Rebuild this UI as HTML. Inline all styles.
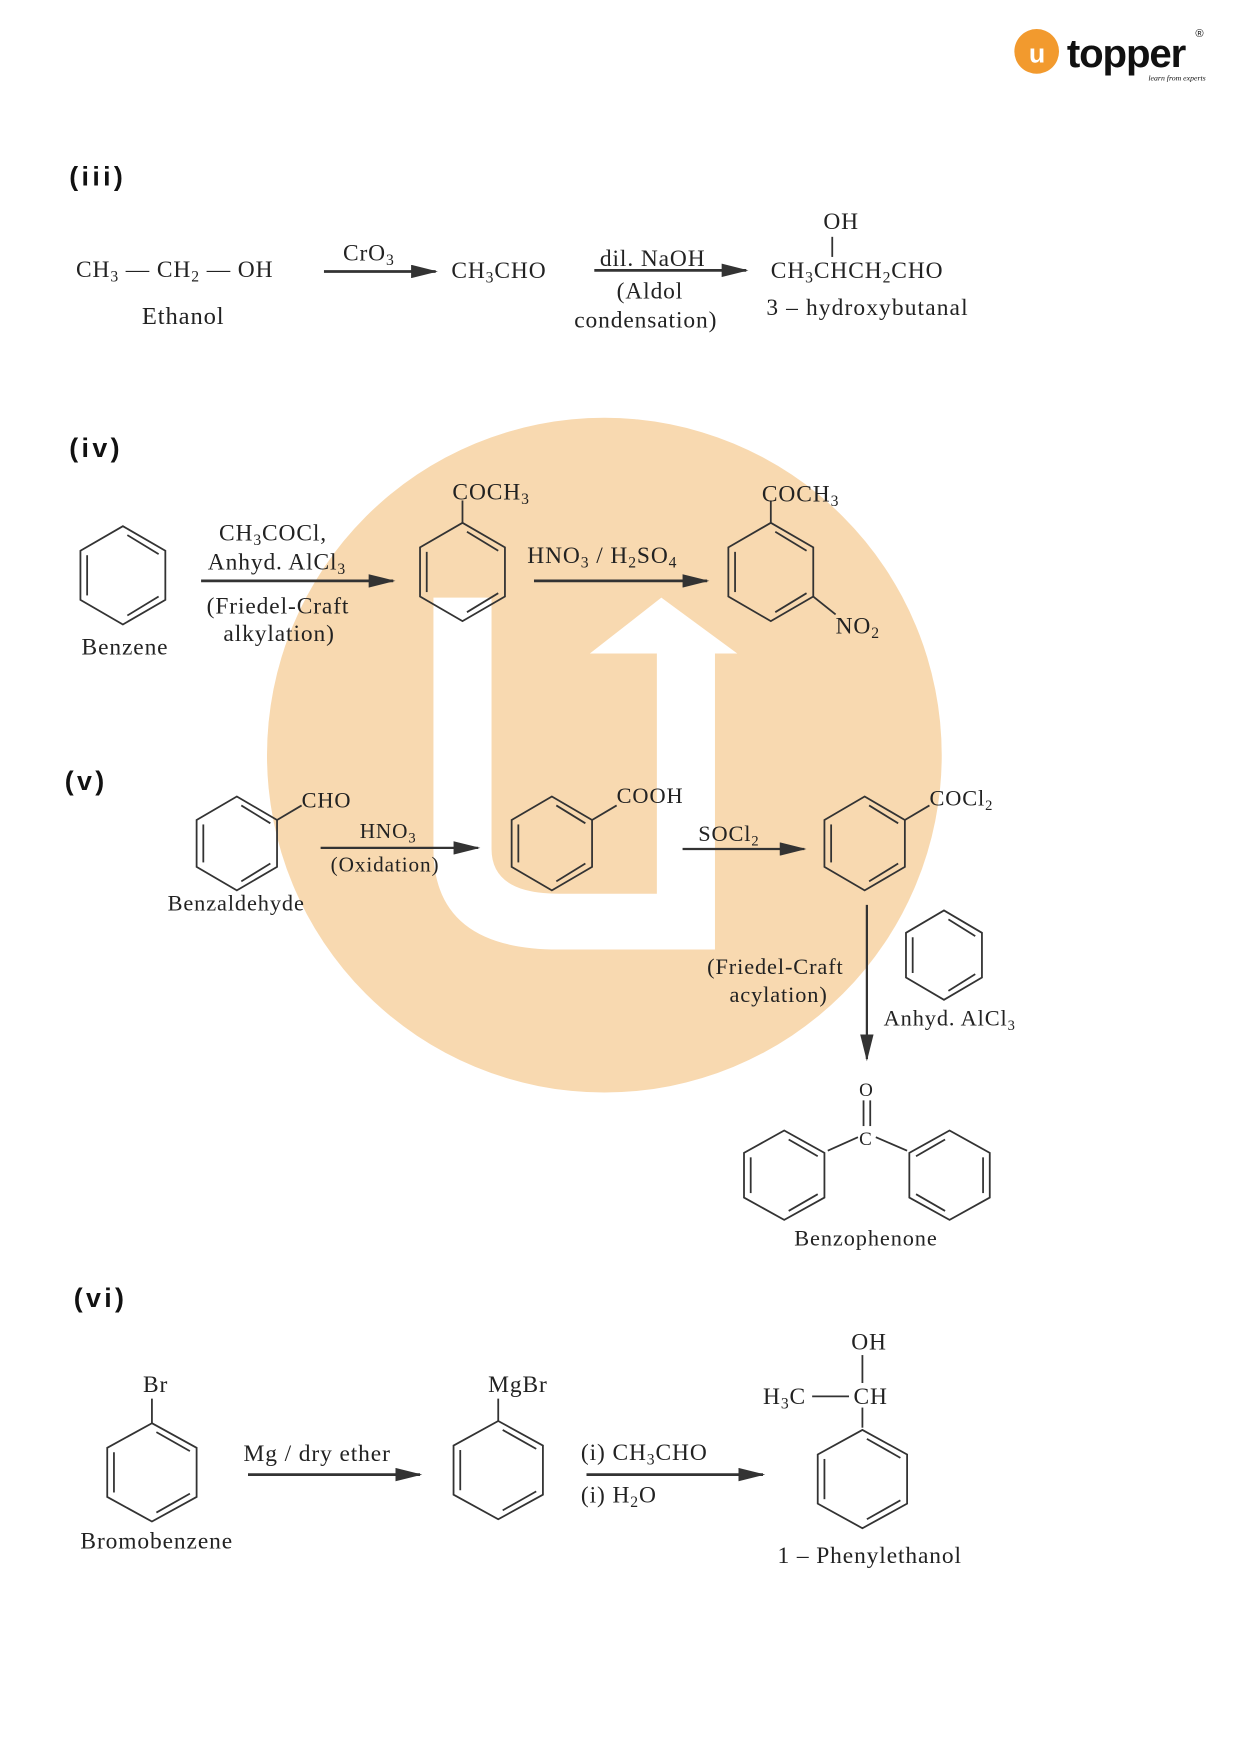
<!DOCTYPE html>
<html><head><meta charset="utf-8">
<style>
html,body{margin:0;padding:0;background:#fff;}
svg{display:block;}
text{font-family:"Liberation Serif",serif;fill:#222;}
.b{font-family:"Liberation Sans",sans-serif;font-weight:bold;fill:#111;}
</style></head>
<body>
<svg width="1240" height="1755" viewBox="0 0 1110 1571" xmlns="http://www.w3.org/2000/svg">
<defs>
<marker id="ahg" markerWidth="24" markerHeight="12" refX="22" refY="6" orient="auto" markerUnits="userSpaceOnUse">
<path d="M0,0 L24,6 L0,12 Z" fill="#333"/></marker>
</defs>
<!-- logo -->
<circle cx="928" cy="46" r="20" fill="#f29a2e"/>
<text x="921" y="56" style="font-family:'Liberation Sans',sans-serif;font-weight:bold;font-size:24px;fill:#fff">u</text>
<text x="955" y="60" style="font-family:'Liberation Sans',sans-serif;font-weight:bold;font-size:36px;fill:#111;letter-spacing:-1px">topper</text>
<text x="1070" y="33" style="font-family:'Liberation Sans',sans-serif;font-size:10px;fill:#111">®</text>
<text x="1028" y="72" style="font-size:7px;font-style:italic;fill:#111">learn from experts</text>

<!-- watermark -->
<circle cx="541" cy="676" r="302" fill="#f8d9b0"/>
<path d="M388,535 L440,535 L440,760 Q440,800 500,800 L588,800 L588,585 L528,585 L592,535 L660,585 L640,585 L640,850 L500,850 Q388,850 388,760 Z" fill="#fff"/>

<g stroke="#333" stroke-width="1.6" fill="none">
<line x1="290" y1="243" x2="390" y2="243" marker-end="url(#ahg)" stroke-width="2.5"/>
<line x1="532" y1="242" x2="668" y2="242" marker-end="url(#ahg)" stroke-width="2.5"/>
<line x1="745" y1="212" x2="745" y2="230"/>
<line x1="180" y1="520" x2="352" y2="520" marker-end="url(#ahg)" stroke-width="2.5"/>
<line x1="478" y1="520" x2="633" y2="520" marker-end="url(#ahg)" stroke-width="2.5"/>
<line x1="287" y1="759" x2="428" y2="759" marker-end="url(#ahg)" stroke-width="2"/>
<line x1="611" y1="760" x2="720" y2="760" marker-end="url(#ahg)" stroke-width="2"/>
<line x1="776" y1="810" x2="776" y2="948" marker-end="url(#ahg)" stroke-width="2"/>
<line x1="773" y1="985" x2="773" y2="1008"/><line x1="779" y1="985" x2="779" y2="1008"/>
<line x1="741" y1="1030" x2="768" y2="1018"/><line x1="784" y1="1018" x2="812" y2="1030"/>
<line x1="222" y1="1320" x2="376" y2="1320" marker-end="url(#ahg)" stroke-width="2.5"/>
<line x1="525" y1="1320" x2="683" y2="1320" marker-end="url(#ahg)" stroke-width="2.5"/>
<line x1="772" y1="1213" x2="772" y2="1238"/>
<line x1="727" y1="1250" x2="760" y2="1250"/>
<line x1="772" y1="1260" x2="772" y2="1278"/>
<line x1="136" y1="1252" x2="136" y2="1274"/>
<line x1="446" y1="1252" x2="446" y2="1272"/>
</g>

<g stroke="#333" stroke-width="1.6" fill="none">
<g transform="translate(110,515)"><polygon points="0,-44 38,-22 38,22 0,44 -38,22 -38,-22"/><line x1="4" y1="-36" x2="32" y2="-19"/><line x1="-32" y1="-18" x2="-32" y2="18"/><line x1="4" y1="36" x2="32" y2="19"/></g>
<g transform="translate(414,512)"><polygon points="0,-44 38,-22 38,22 0,44 -38,22 -38,-22"/><line x1="4" y1="-36" x2="32" y2="-19"/><line x1="-32" y1="-18" x2="-32" y2="18"/><line x1="4" y1="36" x2="32" y2="19"/><line x1="0" y1="-44" x2="0" y2="-64"/></g>
<g transform="translate(690,512)"><polygon points="0,-44 38,-22 38,22 0,44 -38,22 -38,-22"/><line x1="4" y1="-36" x2="32" y2="-19"/><line x1="-32" y1="-18" x2="-32" y2="18"/><line x1="4" y1="36" x2="32" y2="19"/><line x1="0" y1="-44" x2="0" y2="-64"/><line x1="38" y1="22" x2="58" y2="38"/></g>
<g transform="translate(212,755)"><polygon points="0,-42 36,-21 36,21 0,42 -36,21 -36,-21"/><line x1="4" y1="-34" x2="30" y2="-18"/><line x1="-30" y1="-17" x2="-30" y2="17"/><line x1="4" y1="34" x2="30" y2="18"/><line x1="36" y1="-21" x2="58" y2="-34"/></g>
<g transform="translate(494,755)"><polygon points="0,-42 36,-21 36,21 0,42 -36,21 -36,-21"/><line x1="4" y1="-34" x2="30" y2="-18"/><line x1="-30" y1="-17" x2="-30" y2="17"/><line x1="4" y1="34" x2="30" y2="18"/><line x1="36" y1="-21" x2="58" y2="-34"/></g>
<g transform="translate(774,755)"><polygon points="0,-42 36,-21 36,21 0,42 -36,21 -36,-21"/><line x1="4" y1="-34" x2="30" y2="-18"/><line x1="-30" y1="-17" x2="-30" y2="17"/><line x1="4" y1="34" x2="30" y2="18"/><line x1="36" y1="-21" x2="58" y2="-34"/></g>
<g transform="translate(845,855)"><polygon points="0,-40 34,-20 34,20 0,40 -34,20 -34,-20"/><line x1="4" y1="-32" x2="28" y2="-17"/><line x1="-28" y1="-16" x2="-28" y2="16"/><line x1="4" y1="32" x2="28" y2="17"/></g>
<g transform="translate(702,1052)"><polygon points="0,-40 36,-20 36,20 0,40 -36,20 -36,-20"/><line x1="4" y1="-32" x2="30" y2="-17"/><line x1="-30" y1="-16" x2="-30" y2="16"/><line x1="4" y1="32" x2="30" y2="17"/></g>
<g transform="translate(850,1052)"><polygon points="0,-40 36,-20 36,20 0,40 -36,20 -36,-20"/><line x1="-4" y1="-32" x2="-30" y2="-17"/><line x1="30" y1="-16" x2="30" y2="16"/><line x1="-4" y1="32" x2="-30" y2="17"/></g>
<g transform="translate(136,1318)"><polygon points="0,-44 40,-22 40,22 0,44 -40,22 -40,-22"/><line x1="4" y1="-36" x2="34" y2="-19"/><line x1="-34" y1="-18" x2="-34" y2="18"/><line x1="4" y1="36" x2="34" y2="19"/></g>
<g transform="translate(446,1316)"><polygon points="0,-44 40,-22 40,22 0,44 -40,22 -40,-22"/><line x1="4" y1="-36" x2="34" y2="-19"/><line x1="-34" y1="-18" x2="-34" y2="18"/><line x1="4" y1="36" x2="34" y2="19"/></g>
<g transform="translate(772,1324)"><polygon points="0,-44 40,-22 40,22 0,44 -40,22 -40,-22"/><line x1="4" y1="-36" x2="34" y2="-19"/><line x1="-34" y1="-18" x2="-34" y2="18"/><line x1="4" y1="36" x2="34" y2="19"/></g>
</g>

<text class="b" x="62" y="166" font-size="24" letter-spacing="3">(iii)</text>
<text class="b" x="62" y="409" font-size="24" letter-spacing="3">(iv)</text>
<text class="b" x="58" y="707" font-size="24" letter-spacing="3">(v)</text>
<text class="b" x="66" y="1170" font-size="24" letter-spacing="3">(vi)</text>

<g font-size="21" letter-spacing="0.8">
<text x="68" y="248">CH<tspan font-size="14" dy="4">3</tspan><tspan dy="-4">  —  CH</tspan><tspan font-size="14" dy="4">2</tspan><tspan dy="-4">  —  OH</tspan></text>
<text x="127" y="290" font-size="22">Ethanol</text>
<text x="307" y="233">CrO<tspan font-size="14" dy="4">3</tspan></text>
<text x="404" y="249">CH<tspan font-size="14" dy="4">3</tspan><tspan dy="-4">CHO</tspan></text>
<text x="537" y="238">dil. NaOH</text>
<text x="552" y="267">(Aldol</text>
<text x="514" y="293">condensation)</text>
<text x="737" y="205">OH</text>
<text x="690" y="249">CH<tspan font-size="14" dy="4">3</tspan><tspan dy="-4">CHCH</tspan><tspan font-size="14" dy="4">2</tspan><tspan dy="-4">CHO</tspan></text>
<text x="686" y="282" letter-spacing="1">3 – hydroxybutanal</text>

<text x="73" y="586">Benzene</text>
<text x="196" y="484">CH<tspan font-size="14" dy="4">3</tspan><tspan dy="-4">COCl,</tspan></text>
<text x="186" y="510">Anhyd. AlCl<tspan font-size="14" dy="4">3</tspan></text>
<text x="185" y="549">(Friedel-Craft</text>
<text x="200" y="574">alkylation)</text>
<text x="405" y="447">COCH<tspan font-size="14" dy="4">3</tspan></text>
<text x="472" y="504">HNO<tspan font-size="14" dy="4">3</tspan><tspan dy="-4"> / H</tspan><tspan font-size="14" dy="4">2</tspan><tspan dy="-4">SO</tspan><tspan font-size="14" dy="4">4</tspan></text>
<text x="682" y="449">COCH<tspan font-size="14" dy="4">3</tspan></text>
<text x="748" y="567">NO<tspan font-size="14" dy="4">2</tspan></text>

<text x="270" y="723" font-size="20">CHO</text>
<text x="150" y="815" font-size="20">Benzaldehyde</text>
<text x="322" y="750" font-size="19">HNO<tspan font-size="13" dy="4">3</tspan></text>
<text x="296" y="780" font-size="19">(Oxidation)</text>
<text x="552" y="719" font-size="20">COOH</text>
<text x="625" y="753" font-size="20">SOCl<tspan font-size="13" dy="4">2</tspan></text>
<text x="832" y="721" font-size="20">COCl<tspan font-size="13" dy="4">2</tspan></text>
<text x="633" y="872" font-size="20">(Friedel-Craft</text>
<text x="653" y="897" font-size="20">acylation)</text>
<text x="791" y="918" font-size="20">Anhyd. AlCl<tspan font-size="13" dy="4">3</tspan></text>
<text x="769" y="981" font-size="17">O</text>
<text x="769" y="1025" font-size="17">C</text>
<text x="711" y="1115" font-size="20">Benzophenone</text>

<text x="128" y="1246">Br</text>
<text x="72" y="1386">Bromobenzene</text>
<text x="218" y="1308">Mg / dry ether</text>
<text x="437" y="1246">MgBr</text>
<text x="520" y="1307">(i)  CH<tspan font-size="14" dy="4">3</tspan><tspan dy="-4">CHO</tspan></text>
<text x="520" y="1345">(i)  H<tspan font-size="14" dy="4">2</tspan><tspan dy="-4">O</tspan></text>
<text x="762" y="1208">OH</text>
<text x="683" y="1257">H<tspan font-size="14" dy="4">3</tspan><tspan dy="-4">C</tspan></text>
<text x="764" y="1257">CH</text>
<text x="696" y="1399">1 – Phenylethanol</text>
</g>
</svg>
</body></html>
